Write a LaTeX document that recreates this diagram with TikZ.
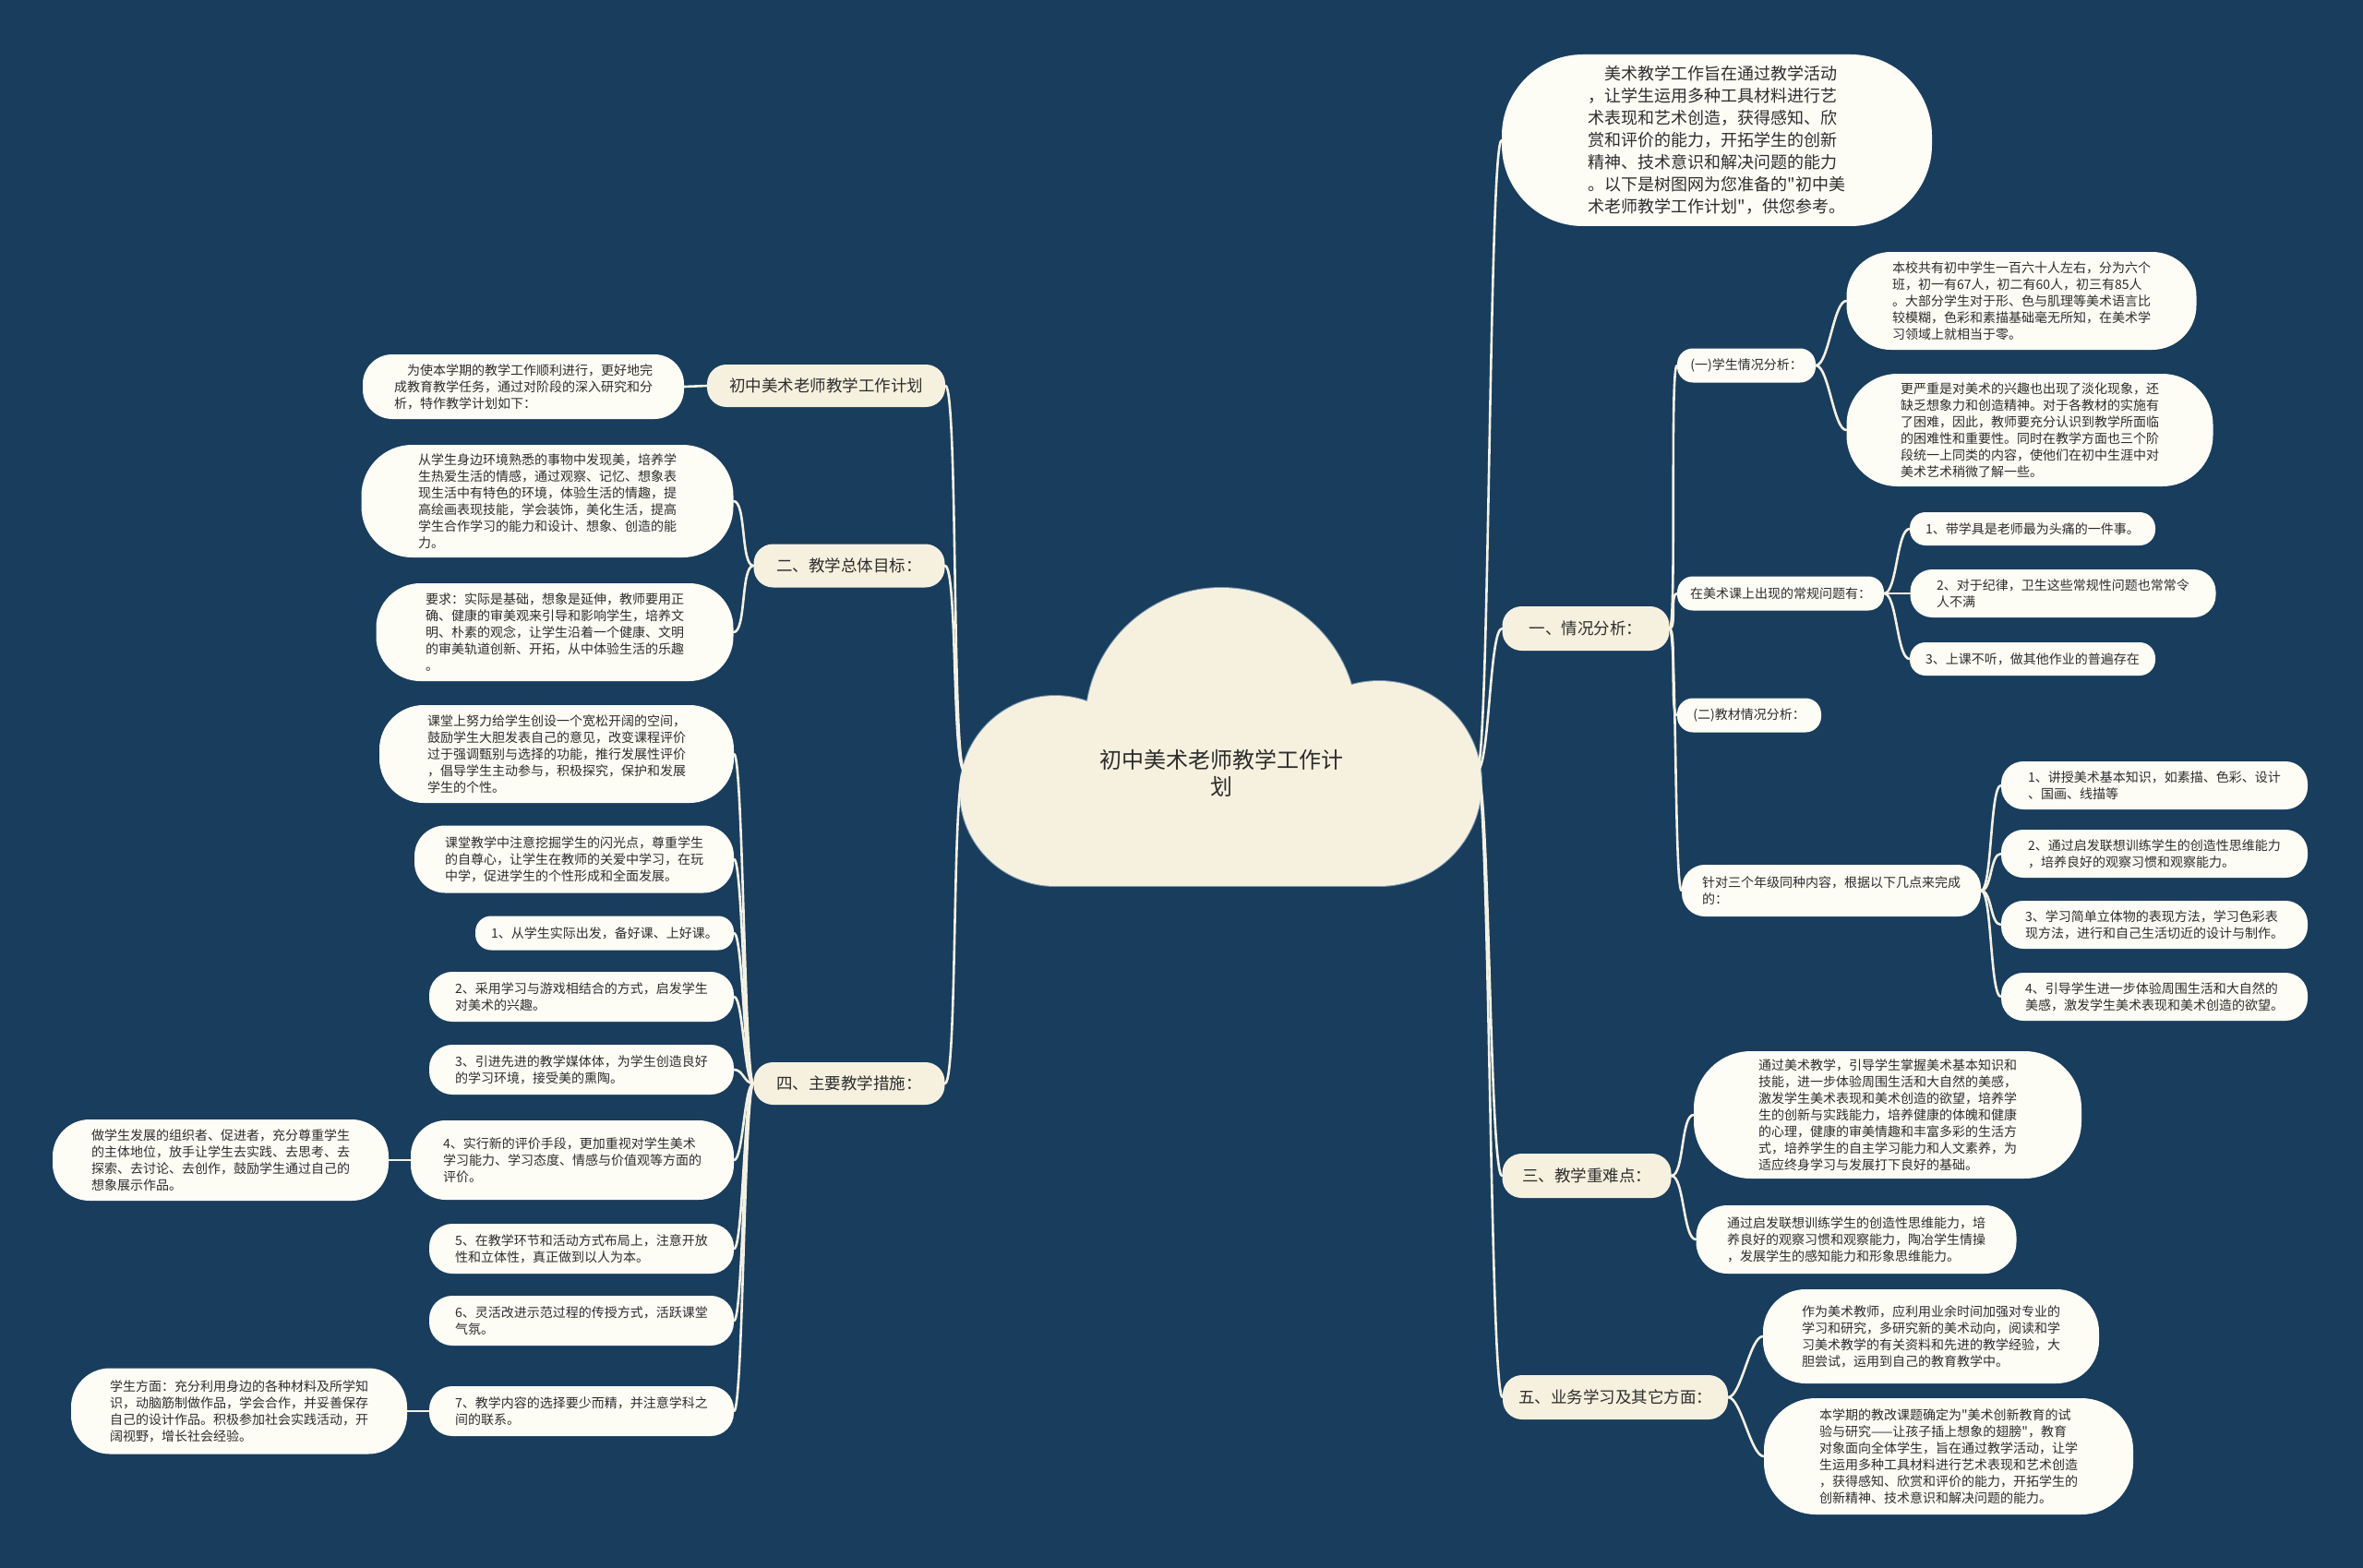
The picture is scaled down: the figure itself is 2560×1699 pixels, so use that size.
\documentclass[tikz,border=0pt]{standalone}
\usepackage{fontspec}
\setmainfont{Noto Sans CJK SC}[Ligatures=TeXOff]
\definecolor{bg}{RGB}{24,61,93}
\definecolor{cream}{RGB}{246,241,222}
\definecolor{leafc}{RGB}{253,252,245}
\definecolor{linec}{RGB}{245,241,226}
\definecolor{txt}{RGB}{45,45,45}
\definecolor{cloudedge}{RGB}{120,150,175}
\begin{document}
\begin{tikzpicture}[x=1pt,y=-1pt,
  conn/.style={draw=linec, line width=2.6pt, line cap=round},
  leaf/.style={fill=leafc, rounded corners=#1, align=left, font=\fontsize{14}{18}\selectfont, text=txt, inner sep=0pt},
  leaf/.default=17,
  mainn/.style={fill=cream, rounded corners=#1, align=center, font=\fontsize{17.5}{22}\selectfont, text=txt, inner sep=0pt},
  mainn/.default=21,
]
\useasboundingbox (0,0) rectangle (2560,1699);
\fill[bg] (0,0) rectangle (2560,1699);

% ---------- central cloud ----------
\begin{scope}
\draw[cloudedge, line width=2pt] (1323,784) circle[radius=147];
\draw[cloudedge, line width=2pt] (1143,857) circle[radius=103];
\draw[cloudedge, line width=2pt] (1494,849) circle[radius=111];
\draw[cloudedge, line width=2pt] (1143,900) rectangle (1494,960);
\fill[cream] (1323,784) circle[radius=147];
\fill[cream] (1143,857) circle[radius=103];
\fill[cream] (1494,849) circle[radius=111];
\fill[cream] (1143,800) rectangle (1494,960);
\end{scope}
\node[align=center, font=\fontsize{24}{29}\selectfont, text=txt] (center) at (1323,838) {初中美术老师教学工作计\\划};
\coordinate (cR) at (1600,835);
\coordinate (cL) at (1045,835);

% ---------- right side ----------
\node[leaf=88, minimum width=466pt, minimum height=186pt, font=\fontsize{18}{24}\selectfont] (intro) at (1860,152) {\hspace{1em}美术教学工作旨在通过教学活动\\，让学生运用多种工具材料进行艺\\术表现和艺术创造，获得感知、欣\\赏和评价的能力，开拓学生的创新\\精神、技术意识和解决问题的能力\\。以下是树图网为您准备的"初中美\\术老师教学工作计划"，供您参考。};

\node[mainn, minimum width=181pt, minimum height=48pt] (s1) at (1718,681) {一、情况分析：};
\node[leaf, minimum width=150pt, minimum height=37pt] (s1a) at (1892,396) {(一)学生情况分析：};
\node[leaf=48, minimum width=379pt, minimum height=106pt] (a1) at (2190,326) {本校共有初中学生一百六十人左右，分为六个\\班，初一有67人，初二有60人，初三有85人\\。大部分学生对于形、色与肌理等美术语言比\\较模糊，色彩和素描基础毫无所知，在美术学\\习领域上就相当于零。};
\node[leaf=55, minimum width=397pt, minimum height=122pt] (a2) at (2199,466) {更严重是对美术的兴趣也出现了淡化现象，还\\缺乏想象力和创造精神。对于各教材的实施有\\了困难，因此，教师要充分认识到教学所面临\\的困难性和重要性。同时在教学方面也三个阶\\段统一上同类的内容，使他们在初中生涯中对\\美术艺术稍微了解一些。};
\node[leaf, minimum width=224pt, minimum height=37pt] (s1b) at (1929,643) {在美术课上出现的常规问题有：};
\node[leaf, minimum width=266pt, minimum height=36pt] (b1) at (2202,573) {1、带学具是老师最为头痛的一件事。};
\node[leaf=24, minimum width=331pt, minimum height=52pt] (b2) at (2235,643) {2、对于纪律，卫生这些常规性问题也常常令\\人不满};
\node[leaf, minimum width=266pt, minimum height=36pt] (b3) at (2202,714) {3、上课不听，做其他作业的普遍存在};
\node[leaf, minimum width=156pt, minimum height=37pt] (s1c) at (1895,775) {(二)教材情况分析：};
\node[leaf=25, minimum width=324pt, minimum height=56pt] (s1d) at (1984,965) {针对三个年级同种内容，根据以下几点来完成\\的：};
\node[leaf=24, minimum width=332pt, minimum height=52pt] (c1) at (2334,851) {1、讲授美术基本知识，如素描、色彩、设计\\、国画、线描等};
\node[leaf=24, minimum width=332pt, minimum height=52pt] (c2) at (2334,925) {2、通过启发联想训练学生的创造性思维能力\\，培养良好的观察习惯和观察能力。};
\node[leaf=24, minimum width=332pt, minimum height=52pt] (c3) at (2334,1002) {3、学习简单立体物的表现方法，学习色彩表\\现方法，进行和自己生活切近的设计与制作。};
\node[leaf=24, minimum width=332pt, minimum height=52pt] (c4) at (2334,1080) {4、引导学生进一步体验周围生活和大自然的\\美感，激发学生美术表现和美术创造的欲望。};

\node[mainn, minimum width=183pt, minimum height=48pt] (s3) at (1719,1274) {三、教学重难点：};
\node[leaf=62, minimum width=420pt, minimum height=138pt] (d1) at (2045,1208) {通过美术教学，引导学生掌握美术基本知识和\\技能，进一步体验周围生活和大自然的美感，\\激发学生美术表现和美术创造的欲望，培养学\\生的创新与实践能力，培养健康的体魄和健康\\的心理，健康的审美情趣和丰富多彩的生活方\\式，培养学生的自主学习能力和人文素养，为\\适应终身学习与发展打下良好的基础。};
\node[leaf=34, minimum width=347pt, minimum height=74pt] (d2) at (2011,1343) {通过启发联想训练学生的创造性思维能力，培\\养良好的观察习惯和观察能力，陶冶学生情操\\，发展学生的感知能力和形象思维能力。};

\node[mainn, minimum width=244pt, minimum height=48pt] (s5) at (1750,1514) {五、业务学习及其它方面：};
\node[leaf=46, minimum width=364pt, minimum height=102pt] (e1) at (2092,1448) {作为美术教师，应利用业余时间加强对专业的\\学习和研究，多研究新的美术动向，阅读和学\\习美术教学的有关资料和先进的教学经验，大\\胆尝试，运用到自己的教育教学中。};
\node[leaf=56, minimum width=400pt, minimum height=126pt] (e2) at (2111,1578) {本学期的教改课题确定为"美术创新教育的试\\验与研究——让孩子插上想象的翅膀"，教育\\对象面向全体学生，旨在通过教学活动，让学\\生运用多种工具材料进行艺术表现和艺术创造\\，获得感知、欣赏和评价的能力，开拓学生的\\创新精神、技术意识和解决问题的能力。};

% ---------- left side ----------
\node[mainn, minimum width=258pt, minimum height=46pt] (t0) at (895,418) {初中美术老师教学工作计划};
\node[leaf=32, minimum width=348pt, minimum height=70pt] (f1) at (567,419) {\hspace{1em}为使本学期的教学工作顺利进行，更好地完\\成教育教学任务，通过对阶段的深入研究和分\\析，特作教学计划如下：};

\node[mainn, minimum width=207pt, minimum height=47pt] (t2) at (920,613) {二、教学总体目标：};
\node[leaf=55, minimum width=403pt, minimum height=122pt] (g1) at (593,543) {从学生身边环境熟悉的事物中发现美，培养学\\生热爱生活的情感，通过观察、记忆、想象表\\现生活中有特色的环境，体验生活的情趣，提\\高绘画表现技能，学会装饰，美化生活，提高\\学生合作学习的能力和设计、想象、创造的能\\力。};
\node[leaf=48, minimum width=387pt, minimum height=106pt] (g2) at (601,685) {要求：实际是基础，想象是延伸，教师要用正\\确、健康的审美观来引导和影响学生，培养文\\明、朴素的观念，让学生沿着一个健康、文明\\的审美轨道创新、开拓，从中体验生活的乐趣\\。};

\node[mainn, minimum width=207pt, minimum height=46pt] (t4) at (920,1174) {四、主要教学措施：};
\node[leaf=48, minimum width=384pt, minimum height=106pt] (h1) at (603,817) {课堂上努力给学生创设一个宽松开阔的空间，\\鼓励学生大胆发表自己的意见，改变课程评价\\过于强调甄别与选择的功能，推行发展性评价\\，倡导学生主动参与，积极探究，保护和发展\\学生的个性。};
\node[leaf=33, minimum width=346pt, minimum height=73pt] (h2) at (622,931) {课堂教学中注意挖掘学生的闪光点，尊重学生\\的自尊心，让学生在教师的关爱中学习，在玩\\中学，促进学生的个性形成和全面发展。};
\node[leaf, minimum width=280pt, minimum height=37pt] (h3) at (655,1011) {1、从学生实际出发，备好课、上好课。};
\node[leaf=25, minimum width=330pt, minimum height=54pt] (h4) at (630,1080) {2、采用学习与游戏相结合的方式，启发学生\\对美术的兴趣。};
\node[leaf=25, minimum width=330pt, minimum height=54pt] (h5) at (630,1159) {3、引进先进的教学媒体体，为学生创造良好\\的学习环境，接受美的熏陶。};
\node[leaf=38, minimum width=350pt, minimum height=86pt] (h6) at (620,1257) {4、实行新的评价手段，更加重视对学生美术\\学习能力、学习态度、情感与价值观等方面的\\评价。};
\node[leaf=40, minimum width=364pt, minimum height=88pt] (h6a) at (239,1257) {做学生发展的组织者、促进者，充分尊重学生\\的主体地位，放手让学生去实践、去思考、去\\探索、去讨论、去创作，鼓励学生通过自己的\\想象展示作品。};
\node[leaf=25, minimum width=330pt, minimum height=54pt] (h7) at (630,1353) {5、在教学环节和活动方式布局上，注意开放\\性和立体性，真正做到以人为本。};
\node[leaf=25, minimum width=330pt, minimum height=54pt] (h8) at (630,1431) {6、灵活改进示范过程的传授方式，活跃课堂\\气氛。};
\node[leaf=25, minimum width=330pt, minimum height=54pt] (h9) at (630,1529) {7、教学内容的选择要少而精，并注意学科之\\间的联系。};
\node[leaf=42, minimum width=364pt, minimum height=93pt] (h9a) at (259,1529) {学生方面：充分利用身边的各种材料及所学知\\识，动脑筋制做作品，学会合作，并妥善保存\\自己的设计作品。积极参加社会实践活动，开\\阔视野，增长社会经验。};

% ---------- connectors ----------
\foreach \n in {intro,s1,s3,s5}
  \draw[conn] (cR) .. controls +(14,0) and +(-14,0) .. (\n.west);
\foreach \n in {t0,t2,t4}
  \draw[conn] (cL) .. controls +(-14,0) and +(14,0) .. (\n.east);
\foreach \n in {s1a,s1b,s1c,s1d}
  \draw[conn] (s1.east) .. controls +(8,0) and +(-8,0) .. (\n.west);
\foreach \n in {a1,a2}
  \draw[conn] (s1a.east) .. controls +(14,0) and +(-14,0) .. (\n.west);
\foreach \n in {b1,b2,b3}
  \draw[conn] (s1b.east) .. controls +(14,0) and +(-14,0) .. (\n.west);
\foreach \n in {c1,c2,c3,c4}
  \draw[conn] (s1d.east) .. controls +(12,0) and +(-12,0) .. (\n.west);
\foreach \n in {d1,d2}
  \draw[conn] (s3.east) .. controls +(14,0) and +(-14,0) .. (\n.west);
\foreach \n in {e1,e2}
  \draw[conn] (s5.east) .. controls +(14,0) and +(-14,0) .. (\n.west);
\draw[conn] (t0.west) -- (f1.east);
\foreach \n in {g1,g2}
  \draw[conn] (t2.west) .. controls +(-14,0) and +(14,0) .. (\n.east);
\foreach \n in {h1,h2,h3,h4,h5,h6,h7,h8,h9}
  \draw[conn] (t4.west) .. controls +(-10,0) and +(10,0) .. (\n.east);
\draw[conn] (h6.west) -- (h6a.east);
\draw[conn] (h9.west) -- (h9a.east);
\end{tikzpicture}
\end{document}
